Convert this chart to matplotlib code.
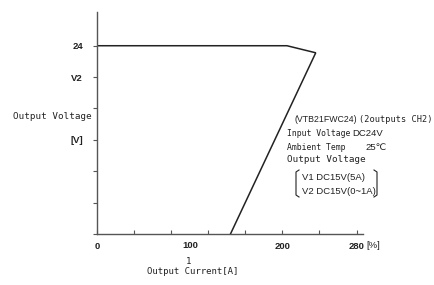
import matplotlib
matplotlib.use("Agg")
import matplotlib.pyplot as plt
from matplotlib.lines import Line2D

# Data (output current in %, output voltage in V)
current_pct = [0, 205, 236, 144]
voltage_v = [24, 24, 23.1, 0]

x_ticks = [0, 40, 80, 120, 160, 200, 240, 280]
x_labels = {0: "0", 200: "200", 280: "280"}
y_ticks = [0, 4, 8, 12, 16, 20, 24]
y_labels = {24: "24", 20: "V2", 12: "[V]"}

mono = "DejaVu Sans Mono"
prop = ["Liberation Sans", "DejaVu Sans"]
col = "#222222"

W, H = 435, 285
fig = plt.figure(figsize=(W / 100, H / 100), dpi=100)
left, right, bottom, top = 97, 363, 234, 12
ax = fig.add_axes([left / W, 1 - bottom / H, (right - left) / W, (bottom - top) / H])

ax.plot(current_pct, voltage_v, color=col, lw=1.1, solid_joinstyle="miter")

ax.set_xlim(0, 287)
ax.set_ylim(0, 28.3)
for s in ["top", "right"]:
    ax.spines[s].set_visible(False)
for s in ["left", "bottom"]:
    ax.spines[s].set_color("#555555")
    ax.spines[s].set_linewidth(1.0)

ax.set_xticks(x_ticks)
ax.set_xticklabels([x_labels.get(t, "") for t in x_ticks])
ax.set_yticks(y_ticks)
ax.set_yticklabels([y_labels.get(t, "") for t in y_ticks])
ax.tick_params(axis="x", direction="in", length=3, width=0.8, color="#555555", pad=6,
               labelsize=6.8, labelcolor=col)
ax.tick_params(axis="y", direction="out", length=3, width=0.8, color="#555555", pad=7,
               labelsize=6.8, labelcolor=col)
for lbl in ax.get_xticklabels() + ax.get_yticklabels():
    lbl.set_fontfamily(prop)
    lbl.set_fontweight("bold")


def ftext(x, y, s, ha="left", fam=mono, fs=6.7, **kw):
    fig.text(x / W, 1 - y / H, s, ha=ha, va="center", fontsize=fs, family=fam,
             color=col, **kw)


# axis texts
ftext(190, 245, "100", ha="center", fam=prop, fs=6.8, weight="bold")
ftext(373, 245, "[%]", ha="center", fam=prop, fs=6.8)
ftext(189, 262, "1", ha="center", fs=6.5)
ftext(193, 272, "Output Current[A]", ha="center", fs=6.5)
ftext(92, 117, "Output Voltage", ha="right", fs=6.7)

# annotation block
ftext(295, 120, "(VTB21FWC24)", fam=prop, fs=6.3)
ftext(433, 120, "(2outputs CH2)", ha="right", fs=6.2)
ftext(287, 133, "Input Voltage", fs=5.9)
ftext(352, 133, "DC24V", fam=prop, fs=6.8)
ftext(287, 147, "Ambient Temp", fs=5.9)
ftext(365, 147, "25℃", fam=prop, fs=6.8)
ftext(287, 159, "Output Voltage", fs=6.7)
ftext(302, 178, "V1 DC15V(5A)", fam=prop, fs=6.8)
ftext(302, 191, "V2 DC15V(0~1A)", fam=prop, fs=6.8)


# brackets
def px(x, y):
    return (x / W, 1 - y / H)


lb = [px(299, 170), px(296, 172), px(296, 195), px(299, 197)]
rb = [px(374, 170), px(377, 172), px(377, 195), px(374, 197)]
for pts in (lb, rb):
    xs, ys = zip(*pts)
    fig.add_artist(Line2D(xs, ys, color=col, lw=0.8, transform=fig.transFigure))

fig.savefig("out.png", dpi=100)
